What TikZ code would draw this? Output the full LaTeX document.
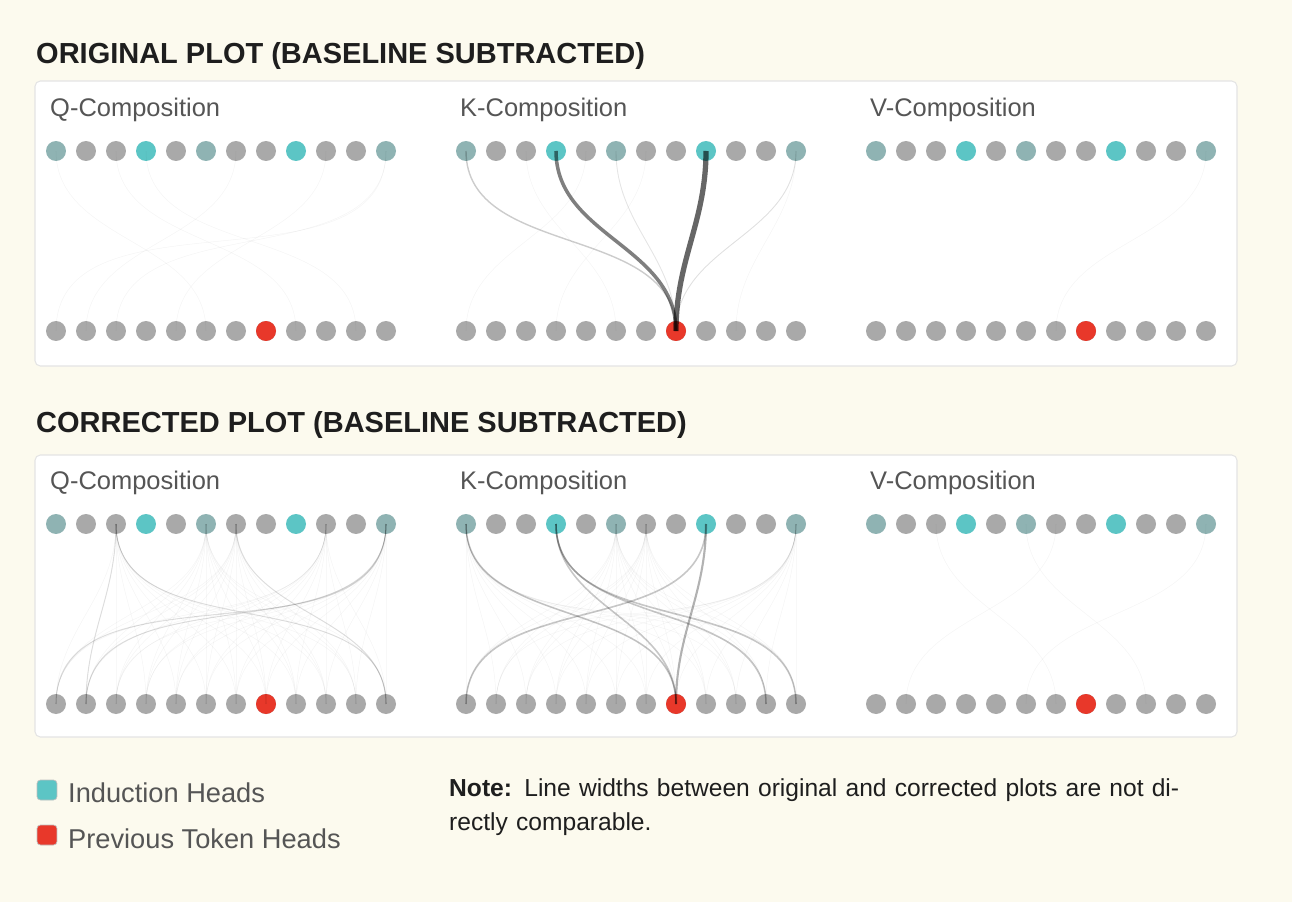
\documentclass[tikz,border=0pt]{standalone}
\usepackage{fontspec}
\setmainfont{Liberation Sans}
\definecolor{paper}{HTML}{FCFAEE}
\definecolor{frame}{HTML}{E4E4E4}
\definecolor{dotG}{HTML}{A9A9A9}
\definecolor{dotA}{HTML}{8FB3B3}
\definecolor{dotT}{HTML}{5CC5C5}
\definecolor{dotR}{HTML}{E8382A}
\definecolor{ink}{HTML}{1E1E1E}
\definecolor{soft}{HTML}{555555}
\begin{document}
\begin{tikzpicture}[x=0.02cm,y=-0.02cm]
    \tikzset{dot/.style={circle,inner sep=0pt,minimum size=0.4cm,fill=#1},
             panel/.style={draw=frame,fill=white,rounded corners=3pt,line width=0.6pt},
             heading/.style={anchor=west,font=\fontsize{16.5}{18}\selectfont\bfseries,text=ink},
             sub/.style={anchor=west,font=\fontsize{14.5}{16}\selectfont,text=soft},
             link/.style={draw=black,line width=#1,opacity=0.25},
             faint/.style={draw=black,line width=0.3pt,opacity=0.04}}
    \fill[paper] (0,0) rectangle (1292,902);
    \useasboundingbox (0,0) rectangle (1292,902);

    \node[heading] at (30,56) {ORIGINAL PLOT (BASELINE SUBTRACTED)};
    \node[heading] at (30,425) {CORRECTED PLOT (BASELINE SUBTRACTED)};
    \draw[panel] (35,81) rectangle (1237,366);
    \draw[panel] (35,455) rectangle (1237,737);

    % dots of both plots
    \foreach \p/\yt in {1/151,2/524} {
        \foreach \c/\xo/\lab in {q/56/Q,k/466/K,v/876/V} {
            \node[sub] (\c\p l) at (\xo-12,\yt-41) {\lab-Composition};
            \foreach \i/\col in {0/dotA,1/dotG,2/dotG,3/dotT,4/dotG,5/dotA,6/dotG,7/dotG,8/dotT,9/dotG,10/dotG,11/dotA}
                \node[dot=\col] (\c\p t\i) at (\xo+30*\i,\yt) {};
            \foreach \i in {0,...,11}
                \node[dot=dotG] (\c\p b\i) at (\xo+30*\i,\yt+180) {};
            \node[dot=dotR] (\c\p b7) at (\xo+210,\yt+180) {};
        }
    }

    % original plot
    \foreach \s/\d in {3/10,11/2,11/0,6/1,9/4,2/8,0/5}
        \path[faint] (q1t\s.center) to[out=-90,in=90] (q1b\d.center);
    \foreach \s/\d in {2/5,6/3,11/9,4/0}
        \path[faint] (k1t\s.center) to[out=-90,in=90] (k1b\d.center);
    \foreach \s/\d in {11/6}
        \path[faint] (v1t\s.center) to[out=-90,in=90] (v1b\d.center);
    \path[link=0.8pt,opacity=0.2] (k1t0.center) to[out=-90,in=90] (k1b7.center);
    \path[link=0.5pt,opacity=0.12] (k1t11.center) to[out=-90,in=90] (k1b7.center);
    \path[link=0.5pt,opacity=0.1] (k1t5.center) to[out=-90,in=90] (k1b7.center);
    \path[link=2pt,opacity=0.5] (k1t3.center) to[out=-90,in=90] (k1b7.center);
    \path[link=3pt,opacity=0.6] (k1t8.center) to[out=-90,in=90] (k1b7.center);

    % corrected plot
    \foreach \s in {2,6,11,5,9}
        \foreach \d in {0,...,11}
            \path[faint] (q2t\s.center) to[out=-90,in=90] (q2b\d.center);
    \foreach \s/\d in {2/11,6/11,11/1,11/0,2/1}
        \path[link=0.6pt,opacity=0.1] (q2t\s.center) to[out=-90,in=90] (q2b\d.center);
    \foreach \s in {0,5,6,11}
        \foreach \d in {0,...,11}
            \path[faint] (k2t\s.center) to[out=-90,in=90] (k2b\d.center);
    \foreach \s/\d in {3/10,3/11,8/0,0/7,3/7}
        \path[link=0.9pt,opacity=0.22] (k2t\s.center) to[out=-90,in=90] (k2b\d.center);
    \path[link=1.2pt,opacity=0.3] (k2t8.center) to[out=-90,in=90] (k2b7.center);
    \foreach \s/\d in {2/6,11/5,5/9,6/1}
        \path[faint] (v2t\s.center) to[out=-90,in=90] (v2b\d.center);

    % legend and note
    \node[draw=black!25,fill=dotT,rounded corners=2pt,minimum size=0.4cm,inner sep=0pt] (ki) at (47,790) {};
    \node[draw=black!25,fill=dotR,rounded corners=2pt,minimum size=0.4cm,inner sep=0pt] (kp) at (47,835) {};
    \node[sub,font=\fontsize{15.5}{17}\selectfont] at (62,793) {Induction Heads};
    \node[sub,font=\fontsize{15.5}{17}\selectfont] at (62,839) {Previous Token Heads};
    \node[anchor=north west,text width=15.6cm,align=left,font=\fontsize{14}{19.5}\selectfont,text=ink] (note) at (443,772)
        {\textbf{Note:} Line widths between original and corrected plots are not directly comparable.};
\end{tikzpicture}
\end{document}
